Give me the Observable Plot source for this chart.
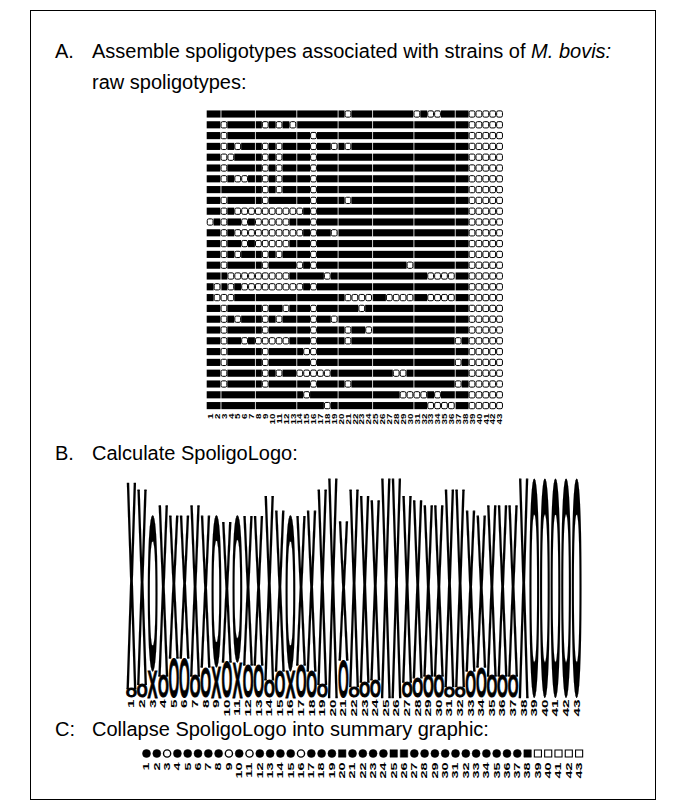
<!DOCTYPE html>
<html><head><meta charset="utf-8">
<script src="https://cdn.jsdelivr.net/npm/d3@7"></script>
<script src="https://cdn.jsdelivr.net/npm/@observablehq/plot@0.6"></script>
<style>
body{margin:0;background:#fff;}
#page{position:relative;width:684px;height:805px;overflow:hidden;font-family:"Liberation Sans",Arial,sans-serif;color:#000;background:#fff;}
.frame{position:absolute;left:30px;top:10px;width:626px;height:790px;border:1px solid #000;box-sizing:border-box;}
.t{position:absolute;font-size:20px;line-height:20px;white-space:nowrap;}
.abs{position:absolute;}
svg{overflow:visible;}
</style></head><body>
<div id="page">
  <div class="frame"></div>
  <div class="t" style="left:55px;top:41px">A.</div>
  <div class="t" style="left:92px;top:41px">Assemble spoligotypes associated with strains of <i>M. bovis:</i></div>
  <div class="t" style="left:92px;top:72px">raw spoligotypes:</div>
  <div class="t" style="left:55px;top:443px">B.</div>
  <div class="t" style="left:92px;top:443px">Calculate SpoligoLogo:</div>
  <div class="t" style="left:55px;top:719px">C:</div>
  <div class="t" style="left:92px;top:719px">Collapse SpoligoLogo into summary graphic:</div>
  <div id="grid" class="abs" style="left:200px;top:100px"></div>
  <div id="logo" class="abs" style="left:110px;top:470px"></div>
  <div id="summary" class="abs" style="left:130px;top:741px"></div>
</div>
<script>
// ---------------- data ----------------
const spacers = d3.range(1, 44);

// absent spacers of each raw spoligotype (rows top to bottom)
const rawAbsent = [
  [21,31,33,34,39,40,41,42,43],
  [3,9,11,13,39,40,41,42,43],
  [3,16,39,40,41,42,43],
  [3,5,9,11,16,19,21,39,40,41,42,43],
  [3,4,9,11,16,39,40,41,42,43],
  [3,9,11,16,39,40,41,42,43],
  [3,5,6,9,11,16,39,40,41,42,43],
  [9,11,16,39,40,41,42,43],
  [3,9,16,21,39,40,41,42,43],
  [3,5,6,7,8,9,10,11,12,13,14,16,39,40,41,42,43],
  [1,3,6,8,9,10,11,12,16,39,40,41,42,43],
  [3,5,6,7,8,9,10,11,12,13,14,16,19,39,40,41,42,43],
  [3,6,8,9,10,11,12,16,39,40,41,42,43],
  [3,5,9,11,16,39,40,41,42,43],
  [3,9,14,16,30,39,40,41,42,43],
  [4,5,6,7,8,9,10,11,12,18,33,34,35,36,39,40,41,42,43],
  [2,4,6,7,8,9,10,11,12,13,14,16,39,40,41,42,43],
  [2,3,4,21,22,23,24,27,28,29,30,33,34,35,36,39,40,41,42,43],
  [3,9,12,16,23,39,40,41,42,43],
  [3,5,9,11,16,19,39,40,41,42,43],
  [3,9,16,21,24,39,40,41,42,43],
  [3,6,8,9,10,11,12,16,21,37,39,40,41,42,43],
  [3,9,15,16,39,40,41,42,43],
  [3,9,16,37,39,40,41,42,43],
  [3,9,11,14,15,16,17,18,28,29,39,40,41,42,43],
  [3,9,16,21,37,39,40,41,42,43],
  [15,29,30,31,32,34,39,40,41,42,43],
  [18,33,34,35,36,39,40,41,42,43]
];

// SpoligoLogo: stacked heights of the "present" (X) and "absent" (O) symbols per spacer
const logoPresent = [0.94,0.89,0.12,0.78,0.65,0.65,0.78,0.69,0.14,0.64,0.16,0.68,0.68,0.84,0.73,0.12,0.68,0.73,0.89,1.00,
                     0.63,0.90,0.85,0.82,1.00,1.00,0.85,0.81,0.78,0.78,0.90,0.90,0.73,0.69,0.78,0.78,0.78,1.00,0,0,0,0,0];
const logoAbsent  = [0.04,0.06,0.71,0.10,0.18,0.18,0.10,0.14,0.69,0.16,0.67,0.15,0.15,0.08,0.12,0.71,0.15,0.12,0.06,0,
                     0.17,0.05,0.07,0.08,0,0,0.07,0.09,0.10,0.10,0.05,0.05,0.12,0.14,0.10,0.10,0.10,0,1,1,1,1,1];

// summary graphic: P = mostly present, A = mostly absent, PP = always present, AA = always absent
const summaryCode = ["P","P","A","P","P","P","P","P","A","P","A","P","P","P","P","A","P","P","P","PP",
                     "P","P","P","P","PP","PP","P","P","P","P","P","P","P","P","P","P","P","PP","AA","AA","AA","AA","AA"];

const FONT = '"Liberation Sans", Arial, sans-serif';

// stretch rotated tick labels along their reading direction
function stretchLabels(svg, k) {
  svg.querySelectorAll('g[aria-label="x-axis tick label"] text').forEach(t => {
    const tr = t.getAttribute("transform") || "";
    t.setAttribute("transform", tr + ` scale(${k},1)`);
  });
}

// ---------------- A: raw spoligotypes ----------------
// runs of consecutive present spacers drawn as one bar; absent spacers as open boxes
const runs = [], absent = [];
rawAbsent.forEach((abs, r) => {
  let start = null;
  spacers.forEach(s => {
    const isAbs = abs.includes(s);
    if (isAbs) {
      absent.push({row: r + 1, s});
      if (start !== null) { runs.push({row: r + 1, a: start, b: s - 1}); start = null; }
    } else if (start === null) start = s;
  });
  if (start !== null) runs.push({row: r + 1, a: start, b: 43});
});
const gridSvg = Plot.plot({
  width: 310, height: 331,
  marginLeft: 6.7, marginRight: 7, marginTop: 8.6, marginBottom: 20,
  style: {fontFamily: FONT, background: "transparent", overflow: "visible"},
  x: {domain: [0.5, 43.5], label: null},
  y: {domain: [0.5, rawAbsent.length + 0.5], reverse: true, axis: null},
  marks: [
    Plot.rect(runs, {x1: d => d.a - 0.5, x2: d => d.b + 0.5, y1: d => d.row - 0.33, y2: d => d.row + 0.33, fill: "black"}),
    Plot.ruleX([2.5, 7.5, 13.5, 19.5, 24.5, 30.5, 36.5], {stroke: "white", strokeWidth: 0.8}),
    Plot.rect(absent, {x1: d => d.s - 0.42, x2: d => d.s + 0.42, y1: d => d.row - 0.29, y2: d => d.row + 0.29,
      fill: "white", stroke: "black", strokeWidth: 1, rx: 1.5}),
    Plot.axisX(spacers, {tickSize: 0, tickPadding: 2, tickRotate: -90, fontSize: 7, fontWeight: "bold", tickFormat: d => d, label: null})
  ]
});
stretchLabels(gridSvg, 1.4);
document.getElementById("grid").appendChild(gridSvg);

// ---------------- B: SpoligoLogo ----------------
const glyphs = [];
spacers.forEach((s, i) => {
  const items = [{g: "X", h: logoPresent[i]}, {g: "O", h: logoAbsent[i]}].filter(d => d.h > 0)
    .sort((a, b) => a.h - b.h); // smaller symbol at the bottom
  let y = 0;
  items.forEach(d => { glyphs.push({s, glyph: d.g, y1: y, y2: y + d.h}); y += d.h; });
});
const logoSvg = Plot.plot({
  width: 490, height: 255,
  marginLeft: 15.7, marginRight: 18.5, marginTop: 8, marginBottom: 28,
  style: {fontFamily: FONT, background: "transparent", overflow: "visible"},
  x: {domain: [0.5, 43.5], label: null},
  y: {domain: [0, 1], axis: null},
  marks: [
    Plot.text(glyphs, {x: "s", y: "y1", text: "glyph", fontSize: 100, fontWeight: "bold", fontFamily: FONT, fill: "black"}),
    Plot.axisX(spacers, {tickSize: 0, tickPadding: 2, tickRotate: -90, fontSize: 9, fontWeight: "bold", tickFormat: d => d, label: null})
  ]
});
stretchLabels(logoSvg, 1.7);
document.getElementById("logo").appendChild(logoSvg);

// stretch each glyph so its ink fills its stack slot
function inkBox(ch) {
  const c = document.createElement("canvas");
  c.width = 300; c.height = 300;
  const ctx = c.getContext("2d");
  ctx.font = `bold 100px ${FONT}`;
  ctx.textAlign = "center"; ctx.textBaseline = "alphabetic";
  ctx.fillStyle = "#000"; ctx.fillText(ch, 150, 200);
  const a = ctx.getImageData(0, 0, 300, 300).data;
  let x0 = 300, x1 = -1, y0 = 300, y1 = -1;
  for (let y = 0; y < 300; y++) for (let x = 0; x < 300; x++) {
    if (a[(y * 300 + x) * 4 + 3] > 60) { if (x < x0) x0 = x; if (x > x1) x1 = x; if (y < y0) y0 = y; if (y > y1) y1 = y; }
  }
  return {x0: x0 - 150, x1: x1 + 1 - 150, y0: y0 - 200, y1: y1 + 1 - 200};
}
const ink = {X: inkBox("X"), O: inkBox("O")};
const xs = logoSvg.scale("x"), ys = logoSvg.scale("y");
const colW = Math.abs(xs.apply(2) - xs.apply(1));
const textNodes = logoSvg.querySelectorAll('g[aria-label="text"] text');
textNodes.forEach((node, i) => {
  const d = glyphs[i];
  const b = ink[d.glyph];
  const X = xs.apply(d.s), Yb = ys.apply(d.y1), Yt = ys.apply(d.y2);
  const w = colW * 0.92, h = Math.max(0.5, Yb - Yt);
  const sx = w / (b.x1 - b.x0), sy = h / (b.y1 - b.y0);
  node.removeAttribute("dy");
  node.removeAttribute("y");
  node.removeAttribute("x");
  node.setAttribute("font-size", "100");
  node.setAttribute("text-anchor", "middle");
  node.setAttribute("transform", `translate(${X},${Yb}) scale(${sx},${sy}) translate(${-(b.x0 + b.x1) / 2},${-b.y1})`);
  node.setAttribute("stroke", "black");
  node.setAttribute("stroke-width", "0.9");
  node.style.vectorEffect = "non-scaling-stroke";
});

// ---------------- C: summary graphic ----------------
const summary = spacers.map((s, i) => ({s, code: summaryCode[i]}));
const sumSvg = Plot.plot({
  width: 470, height: 48,
  marginLeft: 10.85, marginRight: 16.25, marginTop: 6, marginBottom: 30,
  style: {fontFamily: FONT, background: "transparent", overflow: "visible"},
  x: {domain: [0.5, 43.5], label: null},
  marks: [
    Plot.dot(summary.filter(d => d.code === "P"), {x: "s", r: 4, symbol: "circle", fill: "black", stroke: "black", strokeWidth: 0.5}),
    Plot.dot(summary.filter(d => d.code === "A"), {x: "s", r: 3.6, symbol: "circle", fill: "white", stroke: "black", strokeWidth: 1.4}),
    Plot.dot(summary.filter(d => d.code === "PP"), {x: "s", r: 4.2, symbol: "square", fill: "black", stroke: "black", strokeWidth: 0.5}),
    Plot.dot(summary.filter(d => d.code === "AA"), {x: "s", r: 4, symbol: "square", fill: "white", stroke: "black", strokeWidth: 1.1}),
    Plot.axisX(spacers, {tickSize: 0, tickPadding: 3, tickRotate: -90, fontSize: 9, fontWeight: "bold", tickFormat: d => d, label: null})
  ]
});
stretchLabels(sumSvg, 1.6);
document.getElementById("summary").appendChild(sumSvg);
</script>
</body></html>
